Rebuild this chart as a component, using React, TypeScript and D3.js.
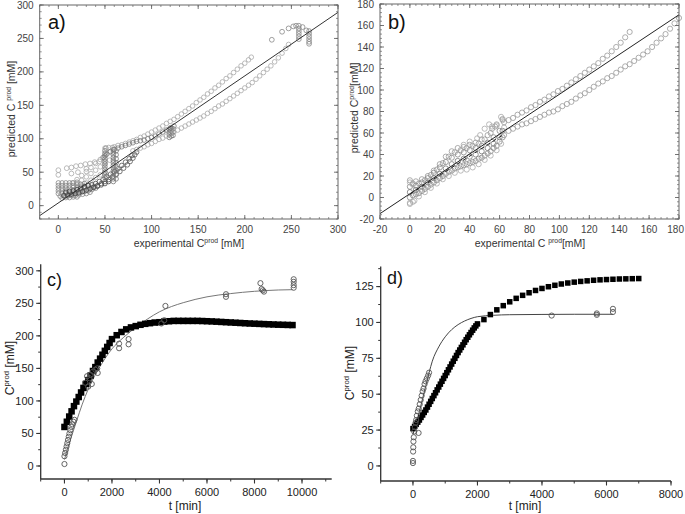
import React from 'react';
import * as d3 from 'd3';

type P = [number, number];

// ---------------- Panel a ----------------
const aTicks = [0, 50, 100, 150, 200, 250, 300];
const aFitX = [-20, 300];
const aFitY = [-15, 289];
const aBandUpper: P[] = [[60,88],[64,90],[68,91],[72,93],[76,95],[80,97],[84,99],[88,102],[92,104],[96,107],[100,110],[104,113],[108,116],[112,119],[116,123],[120,126],[124,129],[128,133],[132,137],[136,141],[140,145],[144,149],[148,154],[152,158],[156,162],[160,167],[164,171],[168,176],[172,180],[176,185],[180,190],[184,194],[188,199],[192,204],[196,209],[200,213],[204,218],[207,222],[50,86],[54,87],[58,87]];
const aBandMid: P[] = [[48,72],[52,77],[56,81],[60,84],[64,86],[68,88],[72,90],[76,92],[80,94],[84,96],[88,97],[92,98],[96,100],[100,102],[104,104],[108,107],[112,110],[116,113],[120,116],[124,119]];
const aBandLower: P[] = [[80,82],[84,84],[88,86],[92,88],[96,91],[100,93],[104,96],[108,99],[112,101],[116,104],[120,107],[124,110],[128,113],[132,116],[136,119],[140,122],[144,125],[148,128],[152,131],[156,134],[160,138],[164,141],[168,145],[172,149],[176,152],[180,156],[184,160],[188,164],[192,168],[196,172],[200,176],[204,180],[208,184],[212,189],[216,194],[220,199],[224,204],[228,209],[232,215],[236,221],[240,228],[244,235],[247,241]];
const aArc: P[] = [[38,28],[42,30],[46,33],[50,36],[54,39],[58,43],[62,47],[66,51],[70,56],[74,61],[77,66],[80,71],[82,76],[84,80],[44,36],[48,39],[52,43],[56,47],[60,51],[64,55],[68,60],[72,65],[76,70],[79,75]];
const aColumns: P[] = [[50,42],[50,46],[50,50],[50,54],[50,58],[50,62],[50,66],[50,70],[50,74],[50,78],[50,82],[51,86],[59,36],[59,40],[59,44],[59,48],[59,52],[59,56],[59,60],[59,64],[59,68],[59,72],[59,76],[59,80],[59,84],[62,40],[62,46],[62,52],[62,58],[62,64],[62,70],[62,76],[62,82],[119,102],[119,106],[119,110],[119,114],[121,104],[121,108],[121,112],[121,116],[123,105],[123,110],[123,115]];
const aRows: P[] = [[0,34],[4,34],[8,34],[12,34],[16,34],[20,35],[0,30],[4,30],[8,30],[12,30],[16,30],[20,31],[24,32],[28,33],[0,26],[4,26],[8,26],[12,26],[16,27],[20,27],[24,28],[28,29],[32,30],[0,22],[4,22],[8,22],[12,22],[16,23],[20,23],[24,24],[28,25],[32,26],[36,27],[0,18],[4,18],[8,18],[12,18],[16,19],[20,19],[24,20],[28,21],[32,22],[36,24],[40,26],[2,14],[6,14],[10,14],[14,15],[18,15],[22,16],[26,17],[30,18],[34,20],[4,11],[8,12],[12,12],[16,13],[20,13]];
const aDarkBand: P[] = [[6,15],[10,16],[14,17],[18,18],[22,19],[26,21],[30,23],[34,25],[38,27],[42,29],[46,31],[50,33],[54,36],[8,20],[12,21],[16,22],[20,24],[24,26],[28,28],[32,30],[36,31],[40,33]];
const aRising: P[] = [[15,34],[20,39],[25,45],[30,51],[35,57],[40,63],[45,69],[50,75],[55,80],[20,33],[25,38],[30,43],[35,48],[40,53],[45,58],[50,63],[55,68],[25,30],[30,34],[35,38],[40,42],[45,46],[50,50]];
const aScatter: P[] = [[0,53],[0,46],[9,56],[14,57],[19,59],[24,60],[29,62],[34,63],[39,65],[44,66],[14,48],[21,50],[30,55]];
const aTopRight: P[] = [[229,248],[240,260],[247,265],[252,268],[255,269],[258,269],[258,265],[258,261],[258,257],[258,253],[258,249],[262,267],[266,262],[269,261],[269,257],[269,253],[269,249],[269,245],[269,242]];

// ---------------- Panel b ----------------
const bTicks = [-20, 0, 20, 40, 60, 80, 100, 120, 140, 160, 180];
const bFitX = [-20, 180];
const bFitY = [-15, 170];
const bDashX = [0, 62];
const bDashY = [3, 58];
const bUpper: P[] = [[63,70],[66,72],[69,74],[72,77],[75,79],[78,81],[81,84],[84,86],[87,89],[90,91],[93,94],[96,96],[99,99],[102,101],[105,104],[108,107],[111,110],[114,113],[117,116],[120,119],[123,122],[126,125],[129,129],[132,132],[135,136],[138,140],[141,144],[144,149],[147,154]];
const bLower: P[] = [[63,58],[66,62],[69,64],[72,66],[75,68],[78,69],[81,71],[84,73],[87,75],[90,77],[93,79],[96,80],[99,82],[102,85],[105,87],[108,89],[111,92],[114,95],[117,97],[120,100],[123,103],[126,106],[129,108],[132,111],[135,113],[138,116],[141,119],[144,122],[147,124],[150,127],[153,130],[156,133],[159,136],[162,140],[165,144],[168,148],[171,152],[174,157],[177,162],[180,167]];
const bCluster1: P[] = [[0,16],[4,15],[8,17],[12,20],[16,25],[20,31],[24,38],[28,43],[32,46],[36,47],[40,49],[44,51],[48,54],[52,58],[55,64],[58,68],[62,73]];
const bCluster2: P[] = [[0,10],[4,11],[8,14],[12,18],[16,23],[20,28],[24,33],[28,37],[32,40],[36,42],[40,44],[44,46],[48,48],[52,51],[56,56],[60,62]];
const bCluster3: P[] = [[0,5],[4,7],[8,10],[12,14],[16,18],[20,22],[24,27],[28,31],[32,34],[36,36],[40,38],[44,40],[48,43],[52,46],[56,50],[60,56],[62,62]];
const bCluster4: P[] = [[0,0],[4,3],[8,6],[12,10],[16,14],[20,18],[24,22],[28,25],[32,28],[36,30],[40,32],[44,34],[48,37],[52,41],[56,46],[60,52]];
const bCluster5: P[] = [[0,-5],[3,-3],[6,1],[10,5],[14,9],[18,13],[22,17],[26,20],[30,23],[34,25],[38,26],[42,28],[46,31],[50,35],[54,39],[58,44],[61,50]];
const bCluster6: P[] = [[2,13],[6,13],[10,16],[14,21],[18,26],[22,32],[26,38],[30,42],[34,44],[38,46],[42,48],[46,50],[50,54],[54,60],[57,66]];
const bCluster7: P[] = [[2,2],[6,4],[10,8],[14,12],[18,16],[22,20],[26,24],[30,27],[34,29],[38,31],[42,33],[46,36],[50,39],[54,43],[58,48],[62,56]];
const bScatter: P[] = [[50,64],[53,68],[55,66],[58,67],[61,75],[62,72],[63,65],[45,55],[47,58],[40,52],[36,49],[0,14],[2,12],[0,-6],[2,-4]];

// ---------------- Panel c ----------------
const cXTicks = [0, 2000, 4000, 6000, 8000, 10000];
const cYTicks = [0, 50, 100, 150, 200, 250, 300];
const cModelT = [0,100,200,300,400,500,600,700,800,900,1000,1100,1200,1300,1400,1500,1600,1700,1800,1900,2000,2200,2400,2600,2800,3000,3200,3400,3600,3800,4000,4200,4400,4600,4800,5000,5200,5400,5600,5800,6000,6200,6400,6600,6800,7000,7200,7400,7600,7800,8000,8200,8400,8600,8800,9000,9200,9400,9600];
const cModelY = [60,68,76,84,92,99,106,113,120,126,132,139,146,152,159,165,171,177,183,189,195,201,206,210,213,215,217,218.5,219.5,220.5,221,222,222.5,223,223,223,223,223,223,222.8,222.5,222.2,221.8,221.4,221,220.6,220.2,219.8,219.4,219,218.7,218.4,218.1,217.8,217.5,217.2,217,216.8,216.6];
const cExp: P[] = [[0,3],[0,15],[30,20],[60,25],[90,30],[120,35],[150,40],[180,45],[210,50],[250,55],[290,60],[330,64],[380,68],[420,71],[880,128],[950,138],[1000,122],[1050,135],[1100,140],[1150,126],[1200,145],[1300,148],[1380,150],[1400,143],[2300,181],[2300,188],[2700,187],[2700,195],[4080,219],[4200,224],[4250,246],[6800,260],[6800,264],[8250,281],[8300,272],[8350,270],[8400,268],[9650,274],[9650,278],[9650,283],[9650,287]];
const cFitT = [0,250,500,750,1000,1500,2000,2500,3000,3500,4000,4500,5000,6000,7000,8000,9000,9600];
const cFitY = [10,40,68,95,118,153,180,198,213,226,237,245,251,260,265,268.5,270.5,271];

// ---------------- Panel d ----------------
const dXTicks = [0, 2000, 4000, 6000, 8000];
const dYTicks = [0, 25, 50, 75, 100, 125];
const dModelT = [0,50,100,150,200,250,300,350,400,450,500,550,600,650,700,750,800,850,900,950,1000,1050,1100,1150,1200,1250,1300,1350,1400,1450,1500,1550,1600,1650,1700,1750,1800,1850,1900,1950,2000,2200,2400,2600,2800,3000,3200,3400,3600,3800,4000,4200,4400,4600,4800,5000,5200,5400,5600,5800,6000,6200,6400,6600,6800,7000];
const dModelY = [26,27.5,29,30.5,32,33.8,35.5,37.3,39,41,43,45,47,49,51,53,55,57,59,61,63,65,67,69,71,73,75,77,79,80.8,82.6,84.4,86.2,88,89.7,91.4,93,94.6,96.2,97.6,99,102,105.5,108.8,111.7,114.4,116.8,118.9,120.7,122.3,123.7,124.9,125.9,126.8,127.5,128.1,128.6,129,129.4,129.7,129.9,130.1,130.3,130.4,130.5,130.6];
const dExp: P[] = [[0,2],[0,3.5],[5,10],[10,13],[15,17],[25,20],[40,24],[60,27],[80,30],[100,32],[120,35],[150,38],[175,23],[180,40],[210,43],[240,46],[270,49],[300,52],[330,54],[360,57],[390,59],[430,61],[470,63],[500,65],[4300,104.8],[5700,105.3],[5700,106.3],[6200,107.3],[6200,109.5]];
const dFitT = [0,100,200,300,400,500,600,800,1000,1200,1400,1600,1800,2000,2500,3000,4000,5000,6200];
const dFitY = [22,30,38,47,56,65,73,83,90,95,98.5,101,102.8,104,105,105.4,105.6,105.7,105.7];

const FONT = "'Liberation Sans', Arial, Helvetica, sans-serif";

type Scale = d3.ScaleLinear<number, number>;

function Circles({ data, x, y, r, stroke, sw = 0.8 }: { data: P[]; x: Scale; y: Scale; r: number; stroke: string; sw?: number }) {
  return (
    <g fill="none" stroke={stroke} strokeWidth={sw}>
      {data.map((d, i) => (
        <circle key={i} cx={x(d[0])} cy={y(d[1])} r={r} />
      ))}
    </g>
  );
}

function range(a: number, b: number, step: number) {
  return d3.range(a, b + step / 2, step);
}

function BoxFrame({ x, y, ticks, minorStep, labelSize = 10 }: { x: Scale; y: Scale; ticks: number[]; minorStep: number; labelSize?: number }) {
  const [x0, x1] = x.range();
  const [y0, y1] = y.range();
  const [dmin, dmax] = x.domain();
  const minors = range(dmin, dmax, minorStep);
  const c = '#666';
  return (
    <g>
      <rect x={x0} y={y1} width={x1 - x0} height={y0 - y1} fill="none" stroke={c} strokeWidth={1} />
      {minors.map((v, i) => (
        <g key={'m' + i} stroke={c} strokeWidth={0.7}>
          <line x1={x(v)} x2={x(v)} y1={y0} y2={y0 - 2} />
          <line x1={x(v)} x2={x(v)} y1={y1} y2={y1 + 2} />
          <line x1={x0} x2={x0 + 2} y1={y(v)} y2={y(v)} />
          <line x1={x1} x2={x1 - 2} y1={y(v)} y2={y(v)} />
        </g>
      ))}
      {ticks.map((v) => (
        <g key={'t' + v} stroke={c} strokeWidth={0.9}>
          <line x1={x(v)} x2={x(v)} y1={y0} y2={y0 - 4} />
          <line x1={x(v)} x2={x(v)} y1={y1} y2={y1 + 4} />
          <line x1={x0} x2={x0 + 4} y1={y(v)} y2={y(v)} />
          <line x1={x1} x2={x1 - 4} y1={y(v)} y2={y(v)} />
        </g>
      ))}
      {ticks.map((v) => {
        const px = x(v);
        const clamp = px + 9 > 685;
        return (
          <text key={'xl' + v} x={clamp ? 684 : px} y={y0 + 14} textAnchor={clamp ? 'end' : 'middle'} fontSize={labelSize} fill="#444" fontFamily={FONT}>{v}</text>
        );
      })}
      {ticks.map((v) => (
        <text key={'yl' + v} x={x0 - 6} y={y(v)} dy="0.35em" textAnchor="end" fontSize={labelSize} fill="#444" fontFamily={FONT}>{v}</text>
      ))}
    </g>
  );
}

function OpenAxes({ x, y, xTicks, yTicks, xMinor, yMinor }: { x: Scale; y: Scale; xTicks: number[]; yTicks: number[]; xMinor: number; yMinor: number }) {
  const [x0, x1] = x.range();
  const [y0, y1] = y.range();
  const xm = range(xTicks[0] - xMinor, xTicks[xTicks.length - 1] + xMinor, xMinor).filter((v) => x(v) >= x0 - 0.5 && x(v) <= x1 + 0.5);
  const ym = range(yTicks[0] - yMinor, yTicks[yTicks.length - 1] + yMinor, yMinor).filter((v) => y(v) <= y0 + 0.5 && y(v) >= y1 - 0.5);
  const c = '#333';
  return (
    <g>
      <line x1={x0} x2={x1} y1={y0} y2={y0} stroke={c} strokeWidth={1.3} />
      <line x1={x0} x2={x0} y1={y0} y2={y1} stroke={c} strokeWidth={1.3} />
      {xm.map((v, i) => (
        <line key={'xm' + i} x1={x(v)} x2={x(v)} y1={y0} y2={y0 + 2.5} stroke={c} strokeWidth={1} />
      ))}
      {ym.map((v, i) => (
        <line key={'ym' + i} x1={x0} x2={x0 - 2.5} y1={y(v)} y2={y(v)} stroke={c} strokeWidth={1} />
      ))}
      {xTicks.map((v) => (
        <g key={'xt' + v}>
          <line x1={x(v)} x2={x(v)} y1={y0} y2={y0 + 4.5} stroke={c} strokeWidth={1.1} />
          <text x={x(v)} y={y0 + 17} textAnchor="middle" fontSize={11} fill="#222" fontFamily={FONT}>{v}</text>
        </g>
      ))}
      {yTicks.map((v) => (
        <g key={'yt' + v}>
          <line x1={x0} x2={x0 - 4.5} y1={y(v)} y2={y(v)} stroke={c} strokeWidth={1.1} />
          <text x={x0 - 7} y={y(v)} dy="0.35em" textAnchor="end" fontSize={11} fill="#222" fontFamily={FONT}>{v}</text>
        </g>
      ))}
    </g>
  );
}

function Squares({ t, v, x, y, s }: { t: number[]; v: number[]; x: Scale; y: Scale; s: number }) {
  return (
    <g fill="#000">
      {t.map((tt, i) => (
        <rect key={i} x={x(tt) - s / 2} y={y(v[i]) - s / 2} width={s} height={s} />
      ))}
    </g>
  );
}

export default function App() {
  const xA = d3.scaleLinear().domain([-20, 300]).range([39.7, 338]);
  const yA = d3.scaleLinear().domain([-20, 300]).range([219, 5]);
  const xB = d3.scaleLinear().domain([-20, 180]).range([380, 679]);
  const yB = d3.scaleLinear().domain([-20, 180]).range([219, 4]);
  const xC = d3.scaleLinear().domain([-1000, 11250]).range([40.7, 331.7]);
  const yC = d3.scaleLinear().domain([-20, 310]).range([479, 264.3]);
  const xD = d3.scaleLinear().domain([-1000, 8000]).range([380.7, 671]);
  const yD = d3.scaleLinear().domain([-10.5, 139]).range([481, 266.5]);

  const lineA = d3.line<number>().x((_, i) => xA(aFitX[i])).y((d) => yA(d));
  const lineB = d3.line<number>().x((_, i) => xB(bFitX[i])).y((d) => yB(d));
  const dashB = d3.line<number>().x((_, i) => xB(bDashX[i])).y((d) => yB(d));
  const fitC = d3.line<number>().x((_, i) => xC(cFitT[i])).y((d) => yC(d)).curve(d3.curveMonotoneX);
  const fitD = d3.line<number>().x((_, i) => xD(dFitT[i])).y((d) => yD(d)).curve(d3.curveMonotoneX);

  const sup = (txt: string, size: number) => (
    <tspan dy={-size * 0.4} fontSize={size * 0.65}>{txt}</tspan>
  );

  return (
    <svg width={685} height={514} style={{ position: 'absolute', left: 0, top: 0, background: '#fff' }} fontFamily={FONT}>
      <rect width={685} height={514} fill="#fff" />
      {/* Panel a */}
      <g>
        <Circles data={aScatter} x={xA} y={yA} r={2.4} stroke="#aaa" />
        <Circles data={aRising} x={xA} y={yA} r={2.3} stroke="#aaa" />
        <Circles data={aRows} x={xA} y={yA} r={2.3} stroke="#888" />
        <Circles data={aDarkBand} x={xA} y={yA} r={2.3} stroke="#444" />
        <Circles data={aArc} x={xA} y={yA} r={2.3} stroke="#555" />
        <Circles data={aColumns} x={xA} y={yA} r={2.3} stroke="#777" />
        <Circles data={aBandUpper} x={xA} y={yA} r={2.3} stroke="#aaa" />
        <Circles data={aBandMid} x={xA} y={yA} r={2.3} stroke="#777" />
        <Circles data={aBandLower} x={xA} y={yA} r={2.3} stroke="#aaa" />
        <Circles data={aTopRight} x={xA} y={yA} r={2.4} stroke="#888" />
        <path d={lineA(aFitY) || ''} fill="none" stroke="#333" strokeWidth={1} />
        <BoxFrame x={xA} y={yA} ticks={aTicks} minorStep={10} />
        <text x={48} y={29} fontSize={20} fill="#111">a)</text>
        <text transform="translate(15,109) rotate(-90)" textAnchor="middle" fontSize={10.5} fill="#333">
          predicted C {sup('prod', 10.5)}<tspan dy={10.5 * 0.4}> [mM]</tspan>
        </text>
        <text x={189} y={247} textAnchor="middle" fontSize={10.5} fill="#333">
          experimental C{sup('prod', 10.5)}<tspan dy={10.5 * 0.4}> [mM]</tspan>
        </text>
      </g>
      {/* Panel b */}
      <g>
        <Circles data={bCluster1} x={xB} y={yB} r={2.6} stroke="#999" />
        <Circles data={bCluster6} x={xB} y={yB} r={2.6} stroke="#999" />
        <Circles data={bCluster2} x={xB} y={yB} r={2.6} stroke="#888" />
        <Circles data={bCluster3} x={xB} y={yB} r={2.6} stroke="#777" />
        <Circles data={bCluster7} x={xB} y={yB} r={2.6} stroke="#888" />
        <Circles data={bCluster4} x={xB} y={yB} r={2.6} stroke="#888" />
        <Circles data={bCluster5} x={xB} y={yB} r={2.6} stroke="#aaa" />
        <Circles data={bScatter} x={xB} y={yB} r={2.6} stroke="#aaa" />
        <Circles data={bUpper} x={xB} y={yB} r={2.6} stroke="#999" />
        <Circles data={bLower} x={xB} y={yB} r={2.6} stroke="#999" />
        <path d={lineB(bFitY) || ''} fill="none" stroke="#222" strokeWidth={1} />
        <path d={dashB(bDashY) || ''} fill="none" stroke="#222" strokeWidth={1} strokeDasharray="4,3" />
        <BoxFrame x={xB} y={yB} ticks={bTicks} minorStep={4} />
        <text x={388} y={29} fontSize={20} fill="#111">b)</text>
        <text transform="translate(358,108) rotate(-90)" textAnchor="middle" fontSize={10.5} fill="#333">
          predicted C{sup('prod', 10.5)}<tspan dy={10.5 * 0.4}>[mM]</tspan>
        </text>
        <text x={530} y={247} textAnchor="middle" fontSize={10.5} fill="#333">
          experimental C {sup('prod', 10.5)}<tspan dy={10.5 * 0.4}>[mM]</tspan>
        </text>
      </g>
      {/* Panel c */}
      <g>
        <OpenAxes x={xC} y={yC} xTicks={cXTicks} yTicks={cYTicks} xMinor={1000} yMinor={25} />
        <path d={fitC(cFitY) || ''} fill="none" stroke="#777" strokeWidth={1} />
        <Squares t={cModelT} v={cModelY} x={xC} y={yC} s={6.5} />
        <Circles data={cExp} x={xC} y={yC} r={2.6} stroke="#555" sw={0.9} />
        <text x={47} y={286} fontSize={18} fill="#111">c)</text>
        <text transform="translate(14,368) rotate(-90)" textAnchor="middle" fontSize={12} fill="#222">
          C{sup('prod', 12)}<tspan dy={12 * 0.4}> [mM]</tspan>
        </text>
        <text x={185} y={510} textAnchor="middle" fontSize={12} fill="#222">t [min]</text>
      </g>
      {/* Panel d */}
      <g>
        <OpenAxes x={xD} y={yD} xTicks={dXTicks} yTicks={dYTicks} xMinor={1000} yMinor={12.5} />
        <path d={fitD(dFitY) || ''} fill="none" stroke="#444" strokeWidth={1} />
        <Squares t={dModelT} v={dModelY} x={xD} y={yD} s={5.5} />
        <Circles data={dExp} x={xD} y={yD} r={2.6} stroke="#555" sw={0.9} />
        <text x={387} y={284} fontSize={18} fill="#111">d)</text>
        <text transform="translate(354,373) rotate(-90)" textAnchor="middle" fontSize={12} fill="#222">
          C{sup('prod', 12)}<tspan dy={12 * 0.4}> [mM]</tspan>
        </text>
        <text x={525} y={510} textAnchor="middle" fontSize={12} fill="#222">t [min]</text>
      </g>
    </svg>
  );
}
